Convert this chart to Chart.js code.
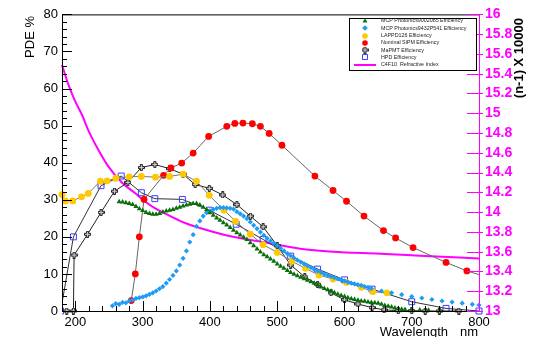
<!DOCTYPE html>
<html>
<head>
<meta charset="utf-8">
<script src="https://cdn.jsdelivr.net/npm/chart.js@4.4.0/dist/chart.umd.min.js"></script>
<style>
  html, body { margin: 0; padding: 0; background: #fff; }
</style>
</head>
<body>
<canvas id="pde" width="533" height="337"></canvas>
<script>
// Valeurs (nm, PDE %)
const greenWl = [265,270,275,280,285,290,295,300,305,310,315,320,325,330,335,340,345,350,355,360,365,370,375,380,385,390,395,400,405,410,415,420,425,430,435,440,445,450,455,460,465,470,475,480,485,490,495,500,505,510,515,520,525,530,535,540,545,550,555,560,565,570,575,580,585,590,595,600,605,610,615,620,625,630,635,640,645,650,655,660,665,670,675,680,685,690,700,712,725,742];
const greenPde = [29.5,29.4,29.2,29.0,28.7,28.2,27.6,27.1,26.6,26.3,26.1,26.1,26.3,26.7,27.0,27.2,27.4,27.7,28.0,28.3,28.6,28.8,29.0,29.0,28.6,28.0,27.3,26.5,25.8,25.1,24.5,23.8,23.2,22.5,21.8,21.1,20.5,19.9,19.3,18.4,17.6,16.7,15.9,15.2,14.6,14.0,13.4,12.7,12.1,11.5,10.9,10.4,9.9,9.5,9.1,8.7,8.3,7.9,7.5,7.0,6.5,6.1,5.7,5.3,4.9,4.5,4.2,3.9,3.6,3.3,3.1,2.9,2.7,2.6,2.4,2.3,2.2,2.1,1.8,1.5,1.3,1.1,0.8,0.6,0.5,0.4,0.3,0.3,0.2,0.1];

const blueWl = [255,260,265,270,275,280,285,290,295,300,305,310,315,320,325,330,335,340,345,350,355,360,365,370,375,380,385,390,395,400,405,410,415,420,425,430,435,440,445,450,455,460,465,470,475,480,485,490,495,500,505,510,515,520,525,530,535,540,545,550,555,560,565,570,575,580,585,590,595,600,605,610,615,620,625,630,635,640,655,670,685,700,715,730,745,760,775,790,800];
const bluePde = [1.4,2.0,1.8,2.3,2.2,2.7,3.0,3.4,3.6,3.8,4.1,4.5,4.9,5.4,6.0,6.6,7.5,8.5,9.6,10.8,12.4,14.2,16.2,18.6,20.6,22.8,24.3,25.6,26.5,27.0,27.4,27.7,27.9,27.9,27.8,27.7,27.5,26.8,26.2,25.6,24.9,24.0,23.1,22.2,21.3,20.4,19.6,18.9,18.3,17.6,16.9,16.2,15.5,14.9,14.3,13.7,13.2,12.7,12.2,11.7,11.2,10.8,10.4,10.0,9.6,9.3,9.0,8.7,8.4,8.1,7.8,7.5,7.3,7.1,6.9,6.6,6.4,6.1,5.4,4.9,4.4,3.9,3.5,3.1,2.7,2.4,2.1,1.8,1.6];

const lappdWl = [180,185,196,209,219,237,247,260,280,298,319,340,360,380,399,421,438,460,479,500,522,542,562,583,603,625,642,663];
const lappdPde = [31.4,29.7,29.7,30.8,31.7,35.0,35.1,35.8,36.2,36.3,36.1,36.3,36.9,35.0,31.2,27.2,24.2,20.7,17.9,15.8,13.4,11.5,9.7,8.6,7.7,6.4,5.2,4.9];

const sipmWl = [283,289,295,302,331,342,358,375,398,425,437,449,463,475,488,507,556,583,603,629,658,676,702,751,782,810];
const sipmPde = [2.8,10.0,20.0,30.1,36.6,38.6,39.9,42.6,47.1,49.8,50.6,50.7,50.5,49.8,47.9,44.7,36.4,32.5,29.6,25.6,21.7,19.7,17.1,13.1,10.8,9.3];

const mapmtWl = [187,197,198,218,238,258,278,298,318,340,360,378,399,419,440,460,479,500,520,541,560,580,600,620,641,659,680,700,720,741,770];
const mapmtPde = [0,0,15.1,20.7,26.6,32.3,34.7,38.7,39.5,38.4,36.9,34.1,33.1,31.3,28.7,25.6,22.7,17.6,12.4,9.2,7.2,4.9,3.0,1.9,0.9,0.3,0.1,0.1,0,0,0];

const hpdWl = [178,197,238,268,298,318,359,399,439,479,520,560,600,641,700,751,800];
const hpdPde = [0,20.0,33.8,36.4,31.9,30.3,30.1,27.2,23.4,19.3,14.8,11.3,8.4,5.9,2.5,0.7,0];

// Indice de réfraction C4F10, (n-1) x 10000
const c4f10Wl = [180,189,199,210,219,234,248,269,289,303,318,341,363,385,434,485,534,583,653,712,800];
const c4f10N = [15.49,15.30,15.13,14.98,14.83,14.63,14.47,14.30,14.19,14.11,14.04,13.96,13.89,13.84,13.75,13.69,13.63,13.60,13.58,13.56,13.53];

const xMajor = [200,300,400,500,600,700,800];
const legendLabels = [
  'MCP Photonics9002085 Efficiency',
  'MCP Photonics9432P541 Efficiency',
  'LAPPD126 Efficiency',
  'Nominal SiPM Efficiency',
  'MaPMT Efficiency',
  'HPD Efficiency',
  'C4F10  Refractive Index'
];

const FONT = "'Liberation Sans', Arial, Helvetica, sans-serif";
const MAGENTA = '#ff00ff';

const pts = (xs, ys) => xs.map((x, i) => ({ x: x, y: ys[i] }));

// marqueur croix ouverte (style ROOT), 7 px
function crossMarker() {
  const c = document.createElement('canvas');
  c.width = 7; c.height = 7;
  const g = c.getContext('2d');
  const o = [0.5, 2.5, 4.5, 6.5];
  g.beginPath();
  g.moveTo(o[1], o[0]); g.lineTo(o[2], o[0]); g.lineTo(o[2], o[1]); g.lineTo(o[3], o[1]);
  g.lineTo(o[3], o[2]); g.lineTo(o[2], o[2]); g.lineTo(o[2], o[3]); g.lineTo(o[1], o[3]);
  g.lineTo(o[1], o[2]); g.lineTo(o[0], o[2]); g.lineTo(o[0], o[1]); g.lineTo(o[1], o[1]);
  g.closePath();
  g.fillStyle = '#d0d0d0';
  g.fill();
  g.strokeStyle = '#1a1a1a';
  g.lineWidth = 1;
  g.stroke();
  return c;
}
const crossImg = crossMarker();

const datasets = [
  {
    label: legendLabels[0], data: pts(greenWl, greenPde), yAxisID: 'y',
    showLine: false, pointStyle: 'triangle', pointRadius: 3,
    backgroundColor: '#0a6e0a', borderColor: '#0a6e0a', borderWidth: 0,
    clip: 6
  },
  {
    label: legendLabels[1], data: pts(blueWl, bluePde), yAxisID: 'y',
    showLine: false, pointStyle: 'rectRot', pointRadius: 2.6,
    backgroundColor: '#1e9bf5', borderColor: '#1e9bf5', borderWidth: 0,
    clip: 6
  },
  {
    label: legendLabels[2], data: pts(lappdWl, lappdPde), yAxisID: 'y',
    showLine: true, borderColor: '#777', borderWidth: 1,
    pointStyle: 'circle', pointRadius: 3.4,
    pointBackgroundColor: '#ffc800', pointBorderColor: '#ffc800', pointBorderWidth: 0,
    clip: 6
  },
  {
    label: legendLabels[3], data: pts(sipmWl, sipmPde), yAxisID: 'y',
    showLine: true, borderColor: '#666', borderWidth: 1,
    pointStyle: 'circle', pointRadius: 3.4,
    pointBackgroundColor: '#ff0000', pointBorderColor: '#ff0000', pointBorderWidth: 0,
    clip: { left: 0, top: 0, right: 0, bottom: 6 }
  },
  {
    label: legendLabels[4], data: pts(mapmtWl, mapmtPde), yAxisID: 'y',
    showLine: true, borderColor: '#222', borderWidth: 1,
    pointStyle: crossImg, pointRadius: 3.5,
    clip: 6
  },
  {
    label: legendLabels[5], data: pts(hpdWl, hpdPde), yAxisID: 'y',
    showLine: true, borderColor: '#333', borderWidth: 1,
    pointStyle: 'rect', pointRadius: 4.2,
    pointBackgroundColor: 'rgba(0,0,0,0)', pointBorderColor: '#3c3cff', pointBorderWidth: 1,
    clip: { left: 0, top: 0, right: 6, bottom: 6 }
  },
  {
    label: legendLabels[6], data: pts(c4f10Wl, c4f10N), yAxisID: 'y2',
    showLine: true, borderColor: MAGENTA, borderWidth: 2,
    pointRadius: 0, cubicInterpolationMode: 'monotone',
    clip: 2
  }
];

// Cadre, graduations, titres et légende à la manière de ROOT
const rootFrame = {
  id: 'rootFrame',
  afterDraw(chart) {
    const ctx = chart.ctx;
    const a = chart.chartArea;
    const sx = chart.scales.x, sy = chart.scales.y, sy2 = chart.scales.y2;
    ctx.save();

    // graduations x
    ctx.strokeStyle = '#000';
    ctx.lineWidth = 1;
    ctx.beginPath();
    for (let v = 180; v <= 800; v += 20) {
      const px = Math.round(sx.getPixelForValue(v)) + 0.5;
      const len = xMajor.includes(v) ? 10 : 5;
      ctx.moveTo(px, a.bottom); ctx.lineTo(px, a.bottom - len);
    }
    // graduations y gauche
    for (let v = 0; v <= 80; v += 2) {
      const py = Math.round(sy.getPixelForValue(v)) + 0.5;
      const len = v % 10 === 0 ? 10 : 5;
      ctx.moveTo(a.left, py); ctx.lineTo(a.left + len, py);
    }
    ctx.stroke();

    // cadre
    ctx.beginPath();
    ctx.moveTo(a.left + 0.5, a.top + 0.5); ctx.lineTo(a.right, a.top + 0.5);
    ctx.moveTo(a.left + 0.5, a.top); ctx.lineTo(a.left + 0.5, a.bottom + 0.5);
    ctx.lineTo(a.right, a.bottom + 0.5);
    ctx.stroke();

    // axe droit magenta
    ctx.strokeStyle = MAGENTA;
    ctx.beginPath();
    ctx.moveTo(a.right + 0.5, a.top); ctx.lineTo(a.right + 0.5, a.bottom + 1);
    for (let i = 0; i <= 15; i++) {
      const py = Math.round(sy2.getPixelForValue(13 + i * 0.2)) + 0.5;
      ctx.moveTo(a.right - 12, py); ctx.lineTo(a.right + 4, py);
    }
    ctx.stroke();

    // titres
    ctx.fillStyle = '#000';
    ctx.font = '13px ' + FONT;
    ctx.textBaseline = 'middle';
    ctx.save();
    ctx.translate(30, 16);
    ctx.rotate(-Math.PI / 2);
    ctx.textAlign = 'right';
    ctx.fillText('PDE %', 0, 0);
    ctx.restore();

    ctx.save();
    ctx.font = 'bold 13px ' + FONT;
    ctx.translate(519, 18);
    ctx.rotate(-Math.PI / 2);
    ctx.textAlign = 'right';
    ctx.fillText('(n-1) X 10000', 0, 0);
    ctx.restore();

    ctx.font = '13px ' + FONT;
    ctx.textBaseline = 'alphabetic';
    ctx.textAlign = 'right';
    ctx.fillText('Wavelength', 448, 336);
    ctx.fillText('nm', 478, 336);

    // légende
    const bx = 349, by = 18, bw = 127, bh = 52;
    ctx.fillStyle = '#fff';
    ctx.fillRect(bx, by, bw, bh);
    ctx.strokeStyle = '#000';
    ctx.lineWidth = 1;
    ctx.strokeRect(bx + 0.5, by + 0.5, bw, bh);
    ctx.font = '10px ' + FONT;
    const fs = 10 * 82 / ctx.measureText(legendLabels[0]).width;
    ctx.font = fs.toFixed(2) + 'px ' + FONT;
    ctx.textAlign = 'left';
    ctx.textBaseline = 'middle';
    const rows = [20.9, 28.2, 35.5, 42.8, 50.1, 57.4, 65];
    chart.data.datasets.forEach((ds, i) => {
      const ry = rows[i], mx = 365;
      if (i === 6) {
        ctx.strokeStyle = MAGENTA;
        ctx.lineWidth = 2;
        ctx.beginPath();
        ctx.moveTo(354, ry); ctx.lineTo(376, ry);
        ctx.stroke();
      } else {
        const style = ds.pointStyle || 'circle';
        const fill = ds.pointBackgroundColor || ds.backgroundColor;
        const stroke = ds.pointBorderColor || ds.borderColor;
        ctx.fillStyle = fill;
        ctx.strokeStyle = stroke;
        ctx.lineWidth = ds.pointBorderWidth !== undefined ? ds.pointBorderWidth : 0;
        Chart.helpers.drawPoint(ctx, {
          pointStyle: style, radius: i === 5 ? 3.6 : 2.8, rotation: 0,
          borderWidth: i === 5 ? 1 : 0
        }, mx, Math.round(ry));
      }
      ctx.fillStyle = '#222';
      ctx.fillText(ds.label, 381, ry);
    });

    ctx.restore();
  }
};

new Chart(document.getElementById('pde'), {
  type: 'scatter',
  data: { datasets: datasets },
  options: {
    responsive: false,
    animation: false,
    events: [],
    layout: { padding: { top: 14, left: 0, right: 0, bottom: 0 } },
    plugins: {
      legend: { display: false },
      tooltip: { enabled: false }
    },
    scales: {
      x: {
        type: 'linear', min: 180, max: 800,
        afterFit(s) { s.height = 26; },
        afterBuildTicks(s) { s.ticks = xMajor.map(v => ({ value: v })); },
        grid: { display: false, drawTicks: false },
        border: { display: false },
        ticks: {
          color: '#000', padding: 4, maxRotation: 0, autoSkip: false,
          font: { family: FONT, size: 13 }
        }
      },
      y: {
        type: 'linear', position: 'left', min: 0, max: 80,
        afterFit(s) { s.width = 62; },
        grid: { display: false, drawTicks: false },
        border: { display: false },
        ticks: {
          stepSize: 10, color: '#000', padding: 4,
          font: { family: FONT, size: 13 }
        }
      },
      y2: {
        type: 'linear', position: 'right', min: 13, max: 16,
        afterFit(s) { s.width = 54; },
        grid: { display: false, drawTicks: false },
        border: { display: false },
        ticks: {
          stepSize: 0.2, color: MAGENTA, padding: 6, autoSkip: false,
          font: { family: FONT, size: 14, weight: 'bold' },
          callback: v => String(Math.round(v * 10) / 10)
        }
      }
    }
  },
  plugins: [rootFrame]
});
</script>
</body>
</html>
